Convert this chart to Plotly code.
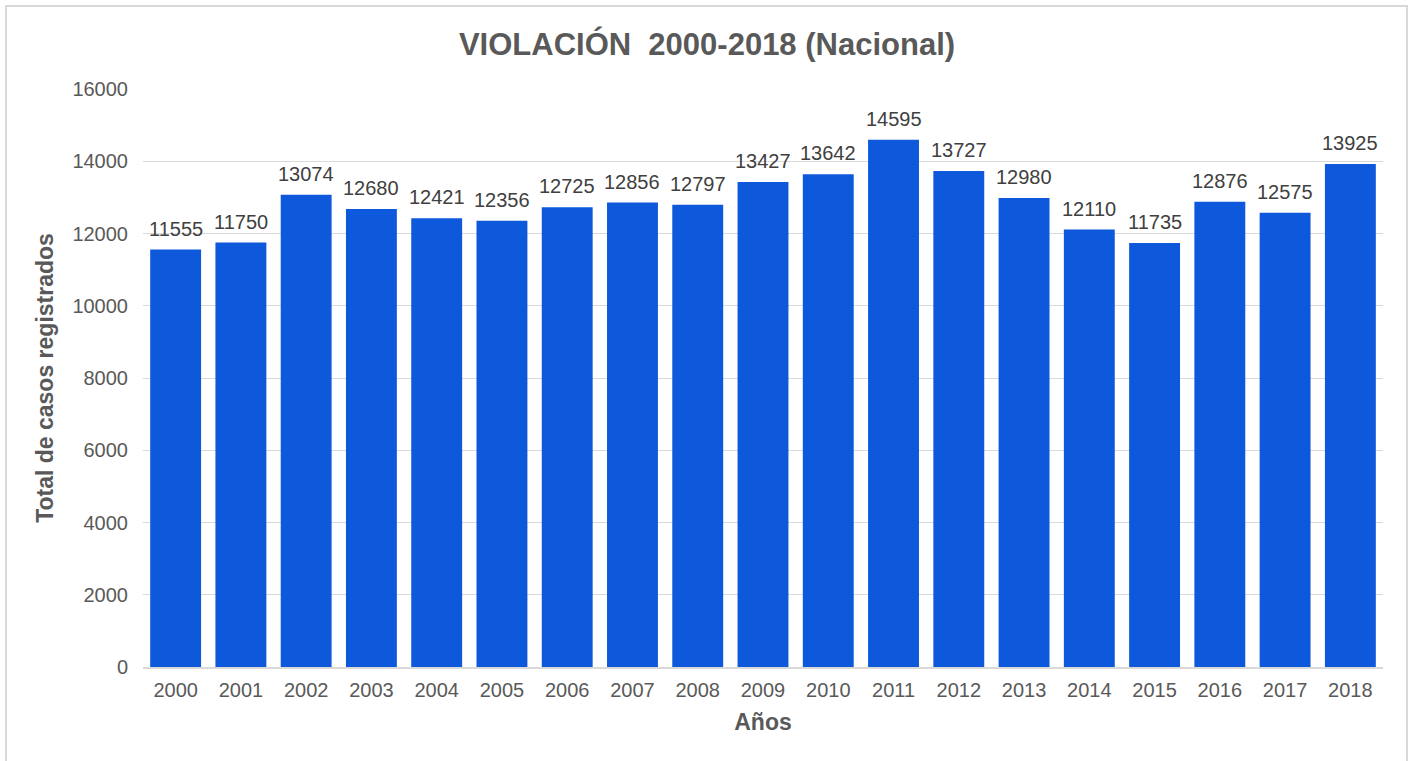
import plotly.graph_objects as go

years = [str(y) for y in range(2000, 2019)]
cases = [11555, 11750, 13074, 12680, 12421, 12356, 12725, 12856, 12797, 13427,
         13642, 14595, 13727, 12980, 12110, 11735, 12876, 12575, 13925]
y_ticks = [0, 2000, 4000, 6000, 8000, 10000, 12000, 14000, 16000]

L, R, T, B = 143, 31, 89, 94
W, H = 1414, 761
pw, ph = W - L - R, H - T - B
FONT = 'Liberation Sans, Arial'

fig = go.Figure()
fig.add_trace(go.Bar(
    x=years, y=cases,
    marker=dict(color='#0E59DB', line=dict(width=0)),
    hoverinfo='x+y',
))

# value labels above each bar (category index, since year strings look numeric)
for i, v in enumerate(cases):
    fig.add_annotation(
        x=i, y=v, text=str(v), showarrow=False,
        yanchor='bottom', yshift=8,
        font=dict(size=20, color='#404040', family=FONT),
    )

fig.update_layout(
    width=W, height=H,
    margin=dict(l=L, r=R, t=T, b=B),
    paper_bgcolor='white', plot_bgcolor='white',
    bargap=0.22,
    showlegend=False,
    font=dict(family=FONT, color='#595959'),
    title=dict(text='<b>VIOLACIÓN  2000-2018 (Nacional)</b>', x=0.5, xanchor='center',
               y=1 - 44 / H, yanchor='middle',
               font=dict(size=31, color='#595959')),
    xaxis=dict(
        type='category',
        range=[-0.5, len(years) - 0.5],
        title=dict(text='<b>Años</b>', font=dict(size=23, color='#595959'), standoff=14),
        tickfont=dict(size=20, color='#595959'),
        showline=True, linecolor='#D9D9D9', linewidth=1.5,
        ticks='', showgrid=False, ticklabelstandoff=4,
    ),
    yaxis=dict(
        title=dict(text='<b>Total de casos registrados</b>', font=dict(size=23, color='#595959'), standoff=12),
        tickfont=dict(size=20, color='#595959'),
        tickvals=y_ticks, ticktext=[str(v) for v in y_ticks],
        range=[0, 16000],
        showgrid=True, gridcolor='#D9D9D9', gridwidth=1.3,
        zeroline=False, ticks='', ticklabelstandoff=14,
    ),
    shapes=[dict(
        type='rect', xref='paper', yref='paper',
        x0=(6 - L) / pw, x1=(1407 - L) / pw,
        y0=(T + ph - 775) / ph, y1=(T + ph - 6) / ph,
        line=dict(color='#D9D9D9', width=2), fillcolor='rgba(0,0,0,0)', layer='below',
    )],
)

fig.write_html('out.html', config={'displayModeBar': False},
               post_script="document.body.style.margin='0';")
